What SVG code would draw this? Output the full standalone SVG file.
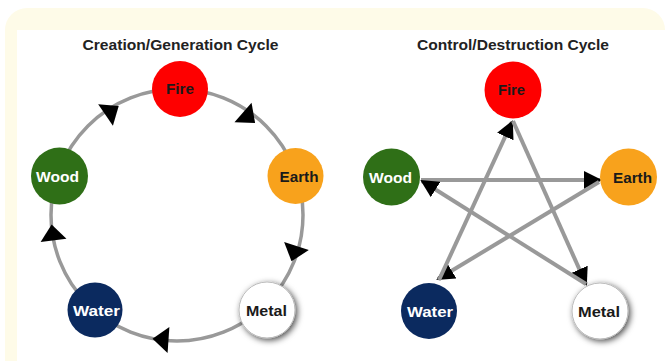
<svg xmlns="http://www.w3.org/2000/svg" width="669" height="361" viewBox="0 0 669 361">
<defs>
<style>
.title{font-family:"Liberation Sans",Arial,sans-serif;font-weight:bold;font-size:15px;fill:#222;text-anchor:middle}
.lbl{font-family:"Liberation Sans",Arial,sans-serif;font-weight:bold;font-size:14px;text-anchor:middle}
.ring{fill:none;stroke:#999;stroke-width:3.5}
.edge{fill:none;stroke:#999;stroke-width:4}
.dark{fill:#1a1a1a}
.light{fill:#fff}
</style>
<path id="tri" d="M9,0 L-7,-13 L-7,13 Z" fill="#000"/>
<marker id="arr" viewBox="0 0 18 18" refX="16" refY="9" markerWidth="18" markerHeight="18" markerUnits="userSpaceOnUse" orient="auto">
<path d="M0,0 L18,9 L0,18 Z" fill="#000"/>
</marker>
<filter id="shadow" x="-40%" y="-40%" width="180%" height="180%">
<feDropShadow dx="2" dy="2" stdDeviation="3" flood-color="#000" flood-opacity="0.7"/>
</filter>
</defs>
<rect x="0" y="0" width="669" height="361" fill="#fff"/>
<rect x="5" y="8" width="660" height="380" rx="22" fill="#fefbe8"/>
<rect x="17" y="30" width="652" height="331" fill="#fff"/>

<text class="title" x="180.5" y="50" textLength="196" lengthAdjust="spacingAndGlyphs">Creation/Generation Cycle</text>
<text class="title" x="513" y="50" textLength="192" lengthAdjust="spacingAndGlyphs">Control/Destruction Cycle</text>

<g id="connectors">
<circle class="ring" cx="177" cy="215" r="126"/>
<use href="#tri" transform="translate(111.3,111) rotate(-34.6)"/>
<use href="#tri" transform="translate(248.3,117.1) rotate(41)"/>
<use href="#tri" transform="translate(294.3,252.7) rotate(108)"/>
<use href="#tri" transform="translate(161.5,339.5) rotate(184)"/>
<use href="#tri" transform="translate(52.7,233.5) rotate(263)"/>

<line class="edge" x1="421" y1="180" x2="600" y2="180" marker-end="url(#arr)"/>
<line class="edge" x1="599" y1="182" x2="438" y2="279" marker-end="url(#arr)"/>
<line class="edge" x1="439" y1="280" x2="512" y2="122" marker-end="url(#arr)"/>
<line class="edge" x1="513" y1="121" x2="586" y2="284" marker-end="url(#arr)"/>
<line class="edge" x1="586" y1="284" x2="422" y2="181" marker-end="url(#arr)"/>
</g>

<g id="c-fire">
<circle cx="180" cy="89" r="28" fill="#fe0000"/>
<text class="lbl dark" x="180" y="94" textLength="28" lengthAdjust="spacingAndGlyphs">Fire</text>
</g>
<g id="c-wood">
<circle cx="59.5" cy="176" r="28.5" fill="#2f6f17"/>
<text class="lbl light" x="57.5" y="182" textLength="43" lengthAdjust="spacingAndGlyphs">Wood</text>
</g>
<g id="c-earth">
<circle cx="295.5" cy="176" r="28" fill="#f8a21c"/>
<text class="lbl dark" x="299" y="182" textLength="39" lengthAdjust="spacingAndGlyphs">Earth</text>
</g>
<g id="c-water">
<circle cx="95" cy="310" r="27.5" fill="#0b2a5f"/>
<text class="lbl light" x="96.5" y="316" textLength="47" lengthAdjust="spacingAndGlyphs">Water</text>
</g>
<g id="c-metal">
<circle cx="267" cy="310" r="28" fill="#fff" stroke="#bbb" stroke-width="1" filter="url(#shadow)"/>
<text class="lbl dark" x="266.5" y="316" textLength="41" lengthAdjust="spacingAndGlyphs">Metal</text>
</g>

<g id="d-fire">
<circle cx="513" cy="90" r="28.5" fill="#fe0000"/>
<text class="lbl dark" x="511.5" y="95" textLength="27" lengthAdjust="spacingAndGlyphs">Fire</text>
</g>
<g id="d-wood">
<circle cx="391.5" cy="177" r="28.5" fill="#2f6f17"/>
<text class="lbl light" x="390.5" y="183" textLength="43" lengthAdjust="spacingAndGlyphs">Wood</text>
</g>
<g id="d-earth">
<circle cx="628.5" cy="177" r="28.5" fill="#f8a21c"/>
<text class="lbl dark" x="632.5" y="183" textLength="39" lengthAdjust="spacingAndGlyphs">Earth</text>
</g>
<g id="d-water">
<circle cx="429" cy="311" r="28" fill="#0b2a5f"/>
<text class="lbl light" x="430" y="317" textLength="46" lengthAdjust="spacingAndGlyphs">Water</text>
</g>
<g id="d-metal">
<circle cx="600" cy="311" r="28" fill="#fff" stroke="#bbb" stroke-width="1" filter="url(#shadow)"/>
<text class="lbl dark" x="599" y="317" textLength="42" lengthAdjust="spacingAndGlyphs">Metal</text>
</g>
</svg>
